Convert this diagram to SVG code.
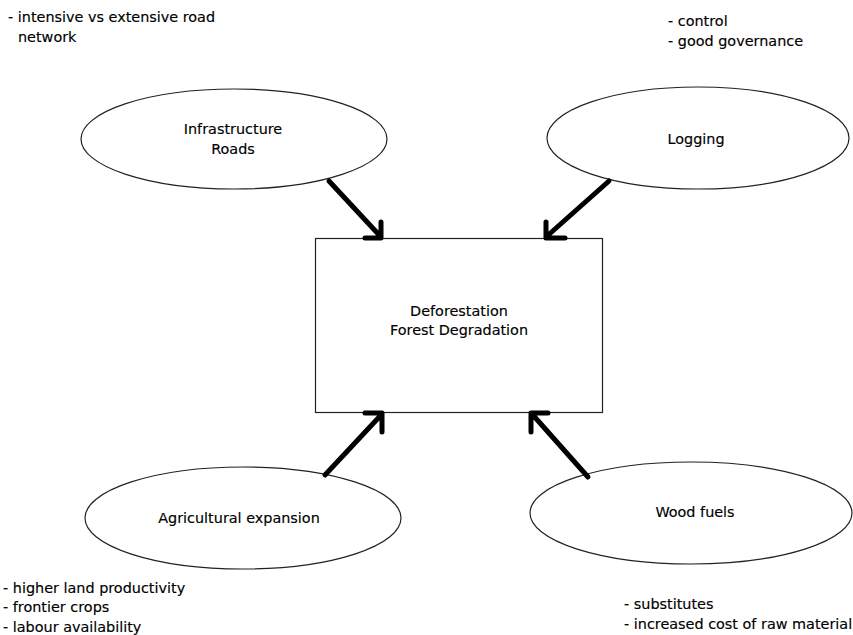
<svg xmlns="http://www.w3.org/2000/svg" width="853" height="635" viewBox="0 0 853 635">
<style>
.n{fill:#fff;stroke:#222;stroke-width:1.2}
.t{font-family:"DejaVu Sans","Liberation Sans",sans-serif;font-size:14.4px;fill:#000;stroke:#000;stroke-width:0.15}
.c{text-anchor:middle}
.a{fill:none;stroke:#000;stroke-width:5;stroke-linecap:round;stroke-linejoin:round}
</style>
<rect width="853" height="635" fill="#fff"/>
<g id="infrastructure"><ellipse class="n" cx="234" cy="139" rx="153" ry="50"/><text class="t c" x="233" y="134">Infrastructure</text><text class="t c" x="233" y="154">Roads</text></g>
<g id="logging"><ellipse class="n" cx="698" cy="138" rx="151" ry="51"/><text class="t c" x="696" y="144">Logging</text></g>
<g id="agriculture"><ellipse class="n" cx="243" cy="518" rx="158" ry="51"/><text class="t c" x="239" y="523">Agricultural expansion</text></g>
<g id="woodfuels"><ellipse class="n" cx="691" cy="513" rx="161" ry="51"/><text class="t c" x="695" y="517">Wood fuels</text></g>
<g id="deforestation"><rect class="n" x="315.5" y="238.5" width="287" height="174"/><text class="t c" x="459" y="316">Deforestation</text><text class="t c" x="459" y="335">Forest Degradation</text></g>
<g id="connectors">
<path class="a" d="M329 181 L381 237 M381 222 V238 H365"/>
<path class="a" d="M609 181 L546 237 M546 222 V238 H565"/>
<path class="a" d="M325 475 L382 414 M382 432 V413 H365"/>
<path class="a" d="M588 477 L532 414 M531 432 V413 H548"/>
</g>
<g id="notes">
<text class="t" x="8" y="22">- intensive vs extensive road</text>
<text class="t" x="18" y="42">network</text>
<text class="t" x="668" y="26">- control</text>
<text class="t" x="668" y="46">- good governance</text>
<text class="t" x="3" y="593">- higher land productivity</text>
<text class="t" x="3" y="612">- frontier crops</text>
<text class="t" x="3" y="632">- labour availability</text>
<text class="t" x="624" y="609">- substitutes</text>
<text class="t" x="624" y="629">- increased cost of raw material</text>
</g>
</svg>
